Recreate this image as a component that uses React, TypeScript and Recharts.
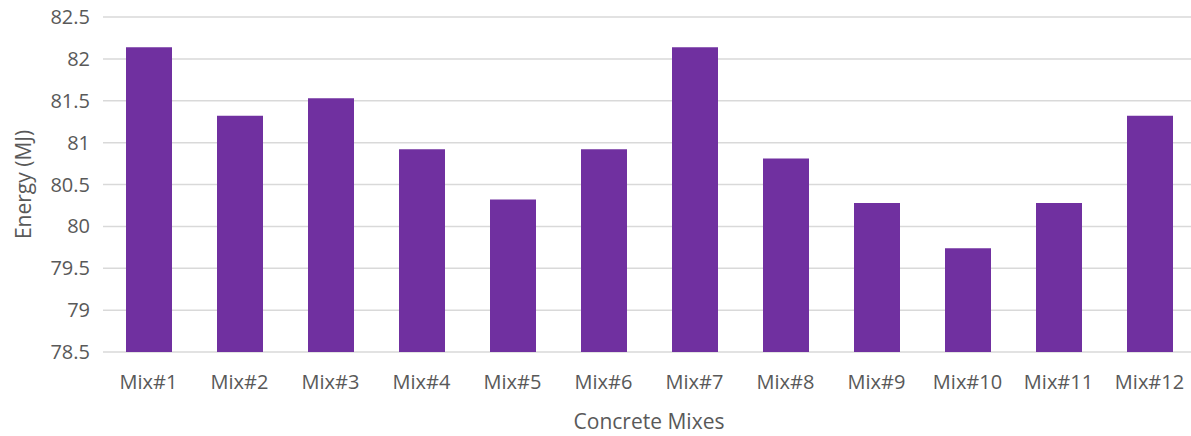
import { BarChart, Bar, XAxis, YAxis, CartesianGrid, Label } from 'recharts';

const mixes = ['Mix#1', 'Mix#2', 'Mix#3', 'Mix#4', 'Mix#5', 'Mix#6', 'Mix#7', 'Mix#8', 'Mix#9', 'Mix#10', 'Mix#11', 'Mix#12'];
const energy = [82.14, 81.32, 81.53, 80.92, 80.32, 80.92, 82.14, 80.81, 80.28, 79.74, 80.28, 81.32];
const energyTicks = [78.5, 79, 79.5, 80, 80.5, 81, 81.5, 82, 82.5];

const data = mixes.map((mix, i) => ({ mix, energy: energy[i] }));

const TEXT = '#595959';
const FONT = '"Open Sans", sans-serif';

// rotated y-axis title, centred on the plot height
const YTitle = (props: any) => {
  const { viewBox } = props;
  const cy = viewBox.y + viewBox.height / 2;
  return (
    <text
      x={23}
      y={cy}
      transform={`rotate(-90, 23, ${cy})`}
      textAnchor="middle"
      dominantBaseline="central"
      fill={TEXT}
      fontSize={21}
      fontFamily={FONT}
    >
      Energy (MJ)
    </text>
  );
};

export default function App() {
  return (
    <div style={{ position: 'absolute', left: 0, top: 0, width: 1191, height: 436, overflow: 'hidden', background: '#fff' }}>
      <BarChart
        width={1196}
        height={436}
        data={data}
        margin={{ top: 17, right: 1, bottom: 54, left: 0 }}
        barSize={46}
      >
        <CartesianGrid vertical={false} stroke="#d9d9d9" strokeWidth={1.5} />
        <XAxis
          dataKey="mix"
          height={30}
          axisLine={false}
          tickLine={false}
          tickSize={0}
          tickMargin={23}
          interval={0}
          tick={{ fill: TEXT, fontSize: 20, fontFamily: FONT }}
        >
          <Label
            value="Concrete Mixes"
            position="bottom"
            offset={32}
            fill={TEXT}
            fontSize={21}
            fontFamily={FONT}
          />
        </XAxis>
        <YAxis
          width={103}
          domain={[78.5, 82.5]}
          ticks={energyTicks}
          allowDataOverflow
          axisLine={false}
          tickLine={false}
          tickSize={0}
          tickMargin={13}
          tick={{ fill: TEXT, fontSize: 20, fontFamily: FONT }}
        >
          <Label content={YTitle} />
        </YAxis>
        <Bar dataKey="energy" fill="#7030a0" isAnimationActive={false} />
      </BarChart>
    </div>
  );
}
